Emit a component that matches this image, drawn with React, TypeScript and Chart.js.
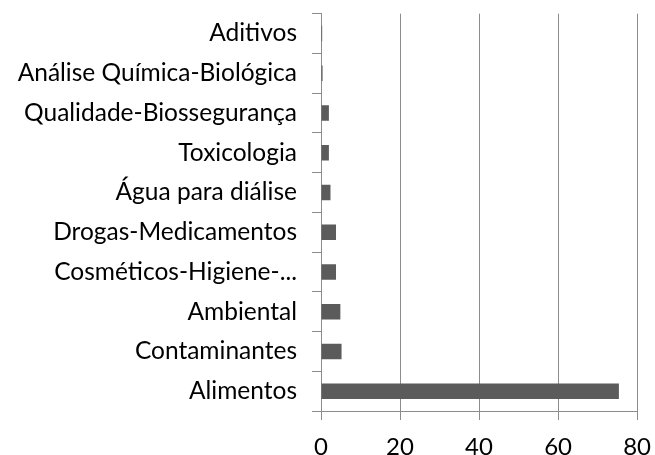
import React, { useEffect, useRef } from "react";
import { Chart, registerables } from "chart.js";

Chart.register(...registerables);

const categories = [
  "Aditivos",
  "Análise Química-Biológica",
  "Qualidade-Biossegurança",
  "Toxicologia",
  "Água para diálise",
  "Drogas-Medicamentos",
  "Cosméticos-Higiene-...",
  "Ambiental",
  "Contaminantes",
  "Alimentos",
];
const values = [0.3, 0.4, 2.0, 2.0, 2.4, 3.8, 3.8, 4.9, 5.2, 75.4];
const xTicks = [0, 20, 40, 60, 80];

export default function App() {
  const ref = useRef<HTMLCanvasElement>(null);
  useEffect(() => {
    if (!ref.current) return;
    const chart = new Chart(ref.current, {
      type: "bar",
      data: {
        labels: categories,
        datasets: [
          {
            data: values,
            backgroundColor: "#5b5b5b",
            borderWidth: 0,
            barPercentage: 0.39,
            categoryPercentage: 1,
          },
        ],
      },
      options: {
        indexAxis: "y",
        animation: false,
        responsive: false,
        maintainAspectRatio: false,
        layout: { padding: 0 },
        plugins: { legend: { display: false }, tooltip: { enabled: false } },
        scales: {
          x: {
            min: xTicks[0],
            max: xTicks[xTicks.length - 1],
            ticks: {
              stepSize: 20,
              color: "#000",
              font: { family: "Lato", size: 24 },
              padding: 13,
            },
            grid: { color: "#8c8c8c", tickLength: 9, lineWidth: 1 },
            border: { color: "#8c8c8c" },
            afterFit: (scale: any) => {
              scale.height = 44;
            },
          },
          y: {
            ticks: {
              color: "#000",
              font: { family: "Lato", size: 24.5 },
              padding: 15,
              autoSkip: false,
            },
            grid: { drawOnChartArea: false, color: "#8c8c8c", tickLength: 9, offset: true },
            border: { color: "#8c8c8c" },
            afterFit: (scale: any) => {
              scale.width = 321;
            },
          },
        },
      },
    });
    return () => chart.destroy();
  }, []);
  return (
    <div style={{ position: "fixed", left: 0, top: 0, width: 655, height: 455, background: "#fff", overflow: "hidden" }}>
      <canvas ref={ref} width={664} height={471} style={{ position: "absolute", left: 0, top: -16 }} />
    </div>
  );
}
